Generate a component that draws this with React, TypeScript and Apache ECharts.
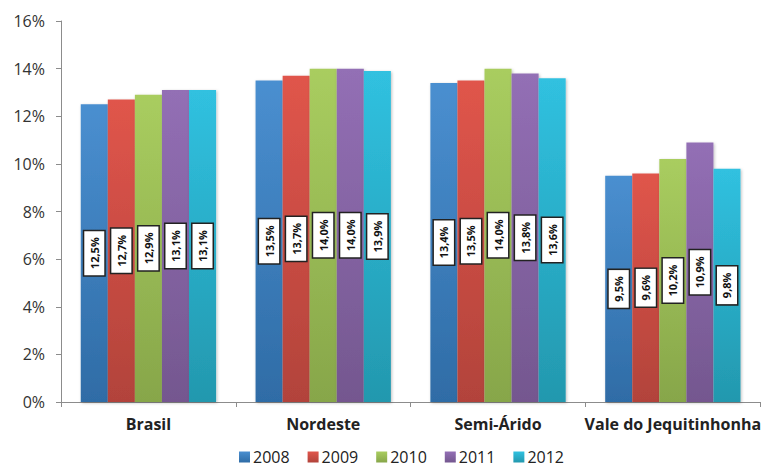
import React, { useEffect, useRef } from "react";
import * as echarts from "echarts";

const categories = ["Brasil", "Nordeste", "Semi-Árido", "Vale do Jequitinhonha"];
const years = ["2008", "2009", "2010", "2011", "2012"];
const s2008 = [12.5, 13.5, 13.4, 9.5];
const s2009 = [12.7, 13.7, 13.5, 9.6];
const s2010 = [12.9, 14.0, 14.0, 10.2];
const s2011 = [13.1, 14.0, 13.8, 10.9];
const s2012 = [13.1, 13.9, 13.6, 9.8];
const seriesValues = [s2008, s2009, s2010, s2011, s2012];
const yTicks = [0, 2, 4, 6, 8, 10, 12, 14, 16];

const topColors = ["#4a8fd0", "#e0554b", "#a9cd5f", "#936fb5", "#30c1e0"];
const bottomColors = ["#2f6ca6", "#b2433b", "#87a64a", "#74578f", "#2398ae"];

export default function App() {
  const ref = useRef<HTMLDivElement>(null);
  useEffect(() => {
    document.body.style.margin = "0";
    const chart = echarts.init(ref.current!, null, { renderer: "svg" });
    const font = "'Open Sans', Lato, sans-serif";
    chart.setOption({
      animation: false,
      backgroundColor: "#ffffff",
      textStyle: { fontFamily: font },
      grid: { left: 61, top: 21, width: 708, height: 381 },
      legend: {
        data: years,
        left: 234,
        bottom: 0,
        itemWidth: 11,
        itemHeight: 11,
        itemGap: 18,
        icon: "rect",
        textStyle: { fontSize: 16, color: "#222", fontFamily: font, padding: [0, 0, 0, -2] },
      },
      xAxis: {
        type: "category",
        data: categories,
        axisLine: { lineStyle: { color: "#8c8c8c", width: 1 } },
        axisTick: { show: true, length: 5, lineStyle: { color: "#8c8c8c" } },
        axisLabel: {
          interval: 0,
          hideOverlap: false,
          fontSize: 16,
          fontWeight: "bold",
          color: "#222",
          margin: 14,
          fontFamily: font,
        },
      },
      yAxis: {
        type: "value",
        min: yTicks[0],
        max: yTicks[yTicks.length - 1],
        interval: 2,
        splitLine: { show: false },
        axisLine: { show: true, lineStyle: { color: "#8c8c8c", width: 1 } },
        axisTick: { show: true, length: 5, lineStyle: { color: "#8c8c8c" } },
        axisLabel: {
          formatter: "{value}%",
          fontSize: 16,
          color: "#333",
          margin: 16,
          fontFamily: font,
        },
      },
      series: years.map((y, i) => ({
        name: y,
        type: "bar",
        data: seriesValues[i],
        barGap: "0%",
        barCategoryGap: "22.6%",
        itemStyle: {
          color: new echarts.graphic.LinearGradient(0, 0, 0, 1, [
            { offset: 0, color: topColors[i] },
            { offset: 1, color: bottomColors[i] },
          ]),
          shadowColor: "rgba(0,0,0,0.25)",
          shadowBlur: 3,
          shadowOffsetX: 1,
          shadowOffsetY: 1,
        },
        label: {
          show: true,
          position: "inside",
          rotate: 90,
          formatter: (p: any) => p.value.toFixed(1).replace(".", ",") + "%",
          fontSize: 11,
          fontWeight: "bold",
          color: "#111",
          backgroundColor: "#ffffff",
          borderColor: "#222",
          borderWidth: 1.5,
          padding: [5, 6, 4, 6],
          fontFamily: font,
        },
      })),
    });
    return () => chart.dispose();
  }, []);
  return <div ref={ref} style={{ width: 763, height: 470 }} />;
}
